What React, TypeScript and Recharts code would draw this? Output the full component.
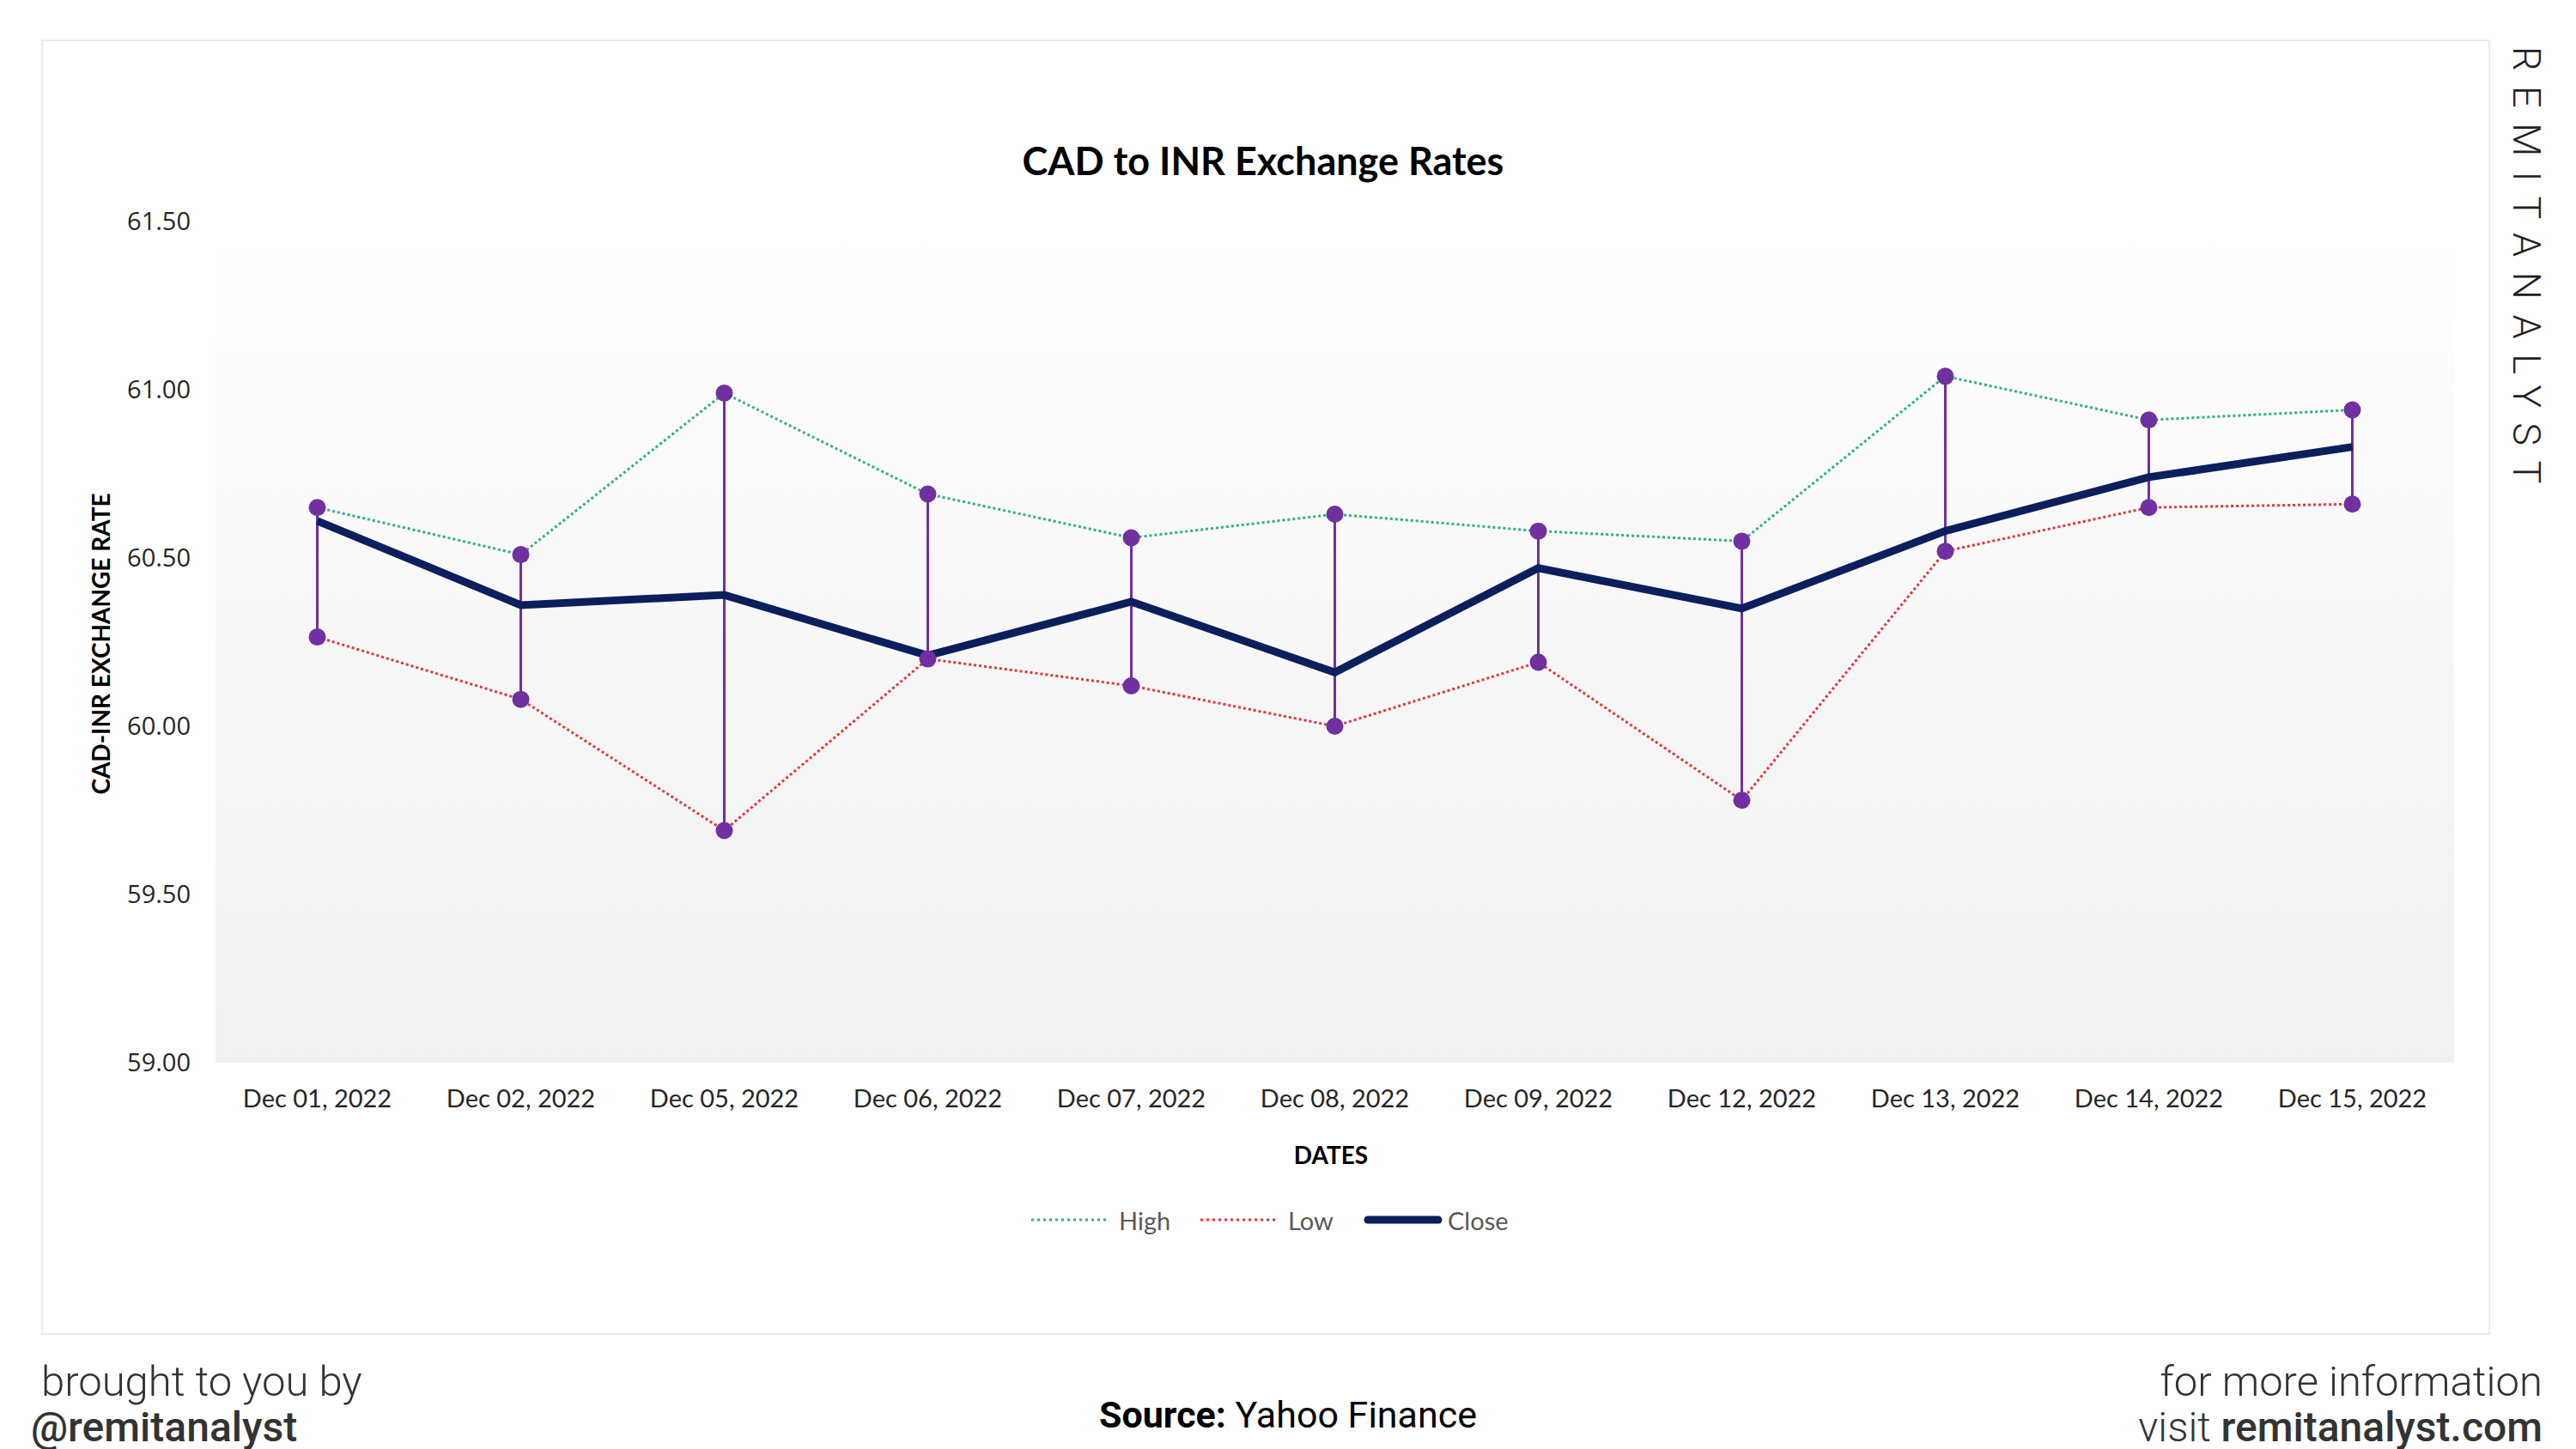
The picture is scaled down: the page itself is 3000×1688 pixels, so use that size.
import {
  Bar,
  CartesianGrid,
  ComposedChart,
  Line,
  XAxis,
  YAxis,
} from "recharts";

const dates = [
  "Dec 01, 2022",
  "Dec 02, 2022",
  "Dec 05, 2022",
  "Dec 06, 2022",
  "Dec 07, 2022",
  "Dec 08, 2022",
  "Dec 09, 2022",
  "Dec 12, 2022",
  "Dec 13, 2022",
  "Dec 14, 2022",
  "Dec 15, 2022",
];
const highs = [60.65, 60.51, 60.99, 60.69, 60.56, 60.63, 60.58, 60.55, 61.04, 60.91, 60.94];
const lows = [60.265, 60.08, 59.69, 60.2, 60.12, 60.0, 60.19, 59.78, 60.52, 60.65, 60.66];
const closes = [60.61, 60.36, 60.39, 60.21, 60.37, 60.16, 60.47, 60.35, 60.58, 60.74, 60.83];
const yTicks = [59, 59.5, 60, 60.5, 61, 61.5];

const GREEN = "#2fb57a";
const RED = "#e5383b";
const NAVY = "#0b1f5c";
const PURPLE = "#7030a0";

const data = dates.map((d, i) => ({
  date: d,
  high: highs[i],
  low: lows[i],
  close: closes[i],
  range: [lows[i], highs[i]],
}));

const abs = (style: React.CSSProperties): React.CSSProperties => ({
  position: "absolute",
  margin: 0,
  whiteSpace: "nowrap",
  ...style,
});

function LegendItem({ color, width, dash, label, x }: { color: string; width: number; dash?: string; label: string; x: number }) {
  return (
    <div style={abs({ left: x, top: 1400, height: 42, display: "flex", alignItems: "center" })}>
      <svg width={92} height={20}>
        <line
          x1={dash ? 2 : 5}
          x2={dash ? 90 : 87}
          y1={10}
          y2={10}
          stroke={color}
          strokeWidth={width}
          strokeDasharray={dash}
          strokeLinecap={dash ? "butt" : "round"}
        />
      </svg>
      <span style={{ fontFamily: "Lato", fontSize: 29, color: "#595959", marginLeft: dash ? 12 : 6 }}>{label}</span>
    </div>
  );
}

export default function App() {
  return (
    <div style={abs({ left: 0, top: 0, width: 3000, height: 1688, background: "#fff", overflow: "hidden" })}>
      <div style={abs({ left: 48, top: 46, width: 2852, height: 1509, border: "2px solid #ececec", boxSizing: "border-box" })} />

      <ComposedChart
        width={3000}
        height={1688}
        data={data}
        margin={{ top: 258, right: 142, left: 111, bottom: 390 }}
        style={{ position: "absolute", left: 0, top: 0 }}
      >
        <defs>
          <linearGradient id="plotBg" x1="0" y1="0" x2="0" y2="1">
            <stop offset="0%" stopColor="#ffffff" />
            <stop offset="100%" stopColor="#f0f0f0" />
          </linearGradient>
        </defs>
        <CartesianGrid horizontal={false} vertical={false} fill="url(#plotBg)" />
        <XAxis
          dataKey="date"
          height={60}
          axisLine={false}
          tickLine={false}
          tickSize={0}
          tickMargin={31}
          interval={0}
          tick={{ fontFamily: "Lato", fontSize: 29, fill: "#262626" }}
        />
        <YAxis
          width={140}
          domain={[59, 61.5]}
          ticks={yTicks}
          allowDataOverflow
          axisLine={false}
          tickLine={false}
          tickSize={0}
          tickMargin={29}
          tickFormatter={(v: number) => v.toFixed(2)}
          tick={{ fontFamily: "Open Sans", fontSize: 29, fill: "#262626" }}
        />
        <Bar dataKey="range" barSize={3} fill={PURPLE} isAnimationActive={false} />
        <Line dataKey="high" stroke={GREEN} strokeWidth={3} strokeDasharray="3 3" dot={false} isAnimationActive={false} />
        <Line dataKey="low" stroke={RED} strokeWidth={3} strokeDasharray="3 3" dot={false} isAnimationActive={false} />
        <Line dataKey="close" stroke={NAVY} strokeWidth={9} dot={false} isAnimationActive={false} />
        <Line
          dataKey="high"
          stroke="none"
          dot={{ r: 10, fill: PURPLE, stroke: PURPLE, strokeWidth: 0 }}
          isAnimationActive={false}
        />
        <Line
          dataKey="low"
          stroke="none"
          dot={{ r: 10, fill: PURPLE, stroke: PURPLE, strokeWidth: 0 }}
          isAnimationActive={false}
        />
      </ComposedChart>

      <div style={abs({ left: 0, width: 2942, top: 160, textAlign: "center", fontFamily: "Lato", fontWeight: 700, fontSize: 45, color: "#000" })}>
        CAD to INR Exchange Rates
      </div>
      <div
        style={abs({
          left: 117,
          top: 750,
          transform: "translate(-50%, -50%) rotate(-90deg)",
          fontFamily: "Lato",
          fontWeight: 700,
          fontSize: 28,
          color: "#000",
        })}
      >
        CAD-INR EXCHANGE RATE
      </div>
      <div style={abs({ left: 1550, top: 1345, transform: "translate(-50%, -50%)", fontFamily: "Lato", fontWeight: 700, fontSize: 28, color: "#000" })}>
        DATES
      </div>

      <LegendItem color={GREEN} width={3} dash="3 4" label="High" x={1199} />
      <LegendItem color={RED} width={3} dash="3 4" label="Low" x={1396} />
      <LegendItem color={NAVY} width={9} label="Close" x={1588} />

      <div
        style={abs({
          left: 2942,
          top: 54,
          transformOrigin: "0 0",
          transform: "rotate(90deg) translate(0, -50%)",
          fontFamily: "Roboto",
          fontWeight: 300,
          fontSize: 45,
          letterSpacing: 17.5,
          color: "#222",
        })}
      >
        REMITANALYST
      </div>

      <div style={abs({ left: 48, top: 1581, fontFamily: "Roboto", fontWeight: 300, fontSize: 49, color: "#333" })}>brought to you by</div>
      <div style={abs({ left: 36, top: 1634, fontFamily: "Roboto", fontWeight: 500, fontSize: 48, color: "#333" })}>@remitanalyst</div>
      <div style={abs({ left: 0, width: 3000, top: 1623, textAlign: "center", fontFamily: "Roboto", fontSize: 43, color: "#000" })}>
        <span style={{ fontWeight: 700 }}>Source:</span> Yahoo Finance
      </div>
      <div style={abs({ right: 39, top: 1581, fontFamily: "Roboto", fontWeight: 300, fontSize: 49, color: "#333", textAlign: "right" })}>
        for more information
      </div>
      <div style={abs({ right: 39, top: 1634, fontFamily: "Roboto", fontWeight: 300, fontSize: 48, color: "#333", textAlign: "right" })}>
        visit <span style={{ fontWeight: 500 }}>remitanalyst.com</span>
      </div>
    </div>
  );
}
